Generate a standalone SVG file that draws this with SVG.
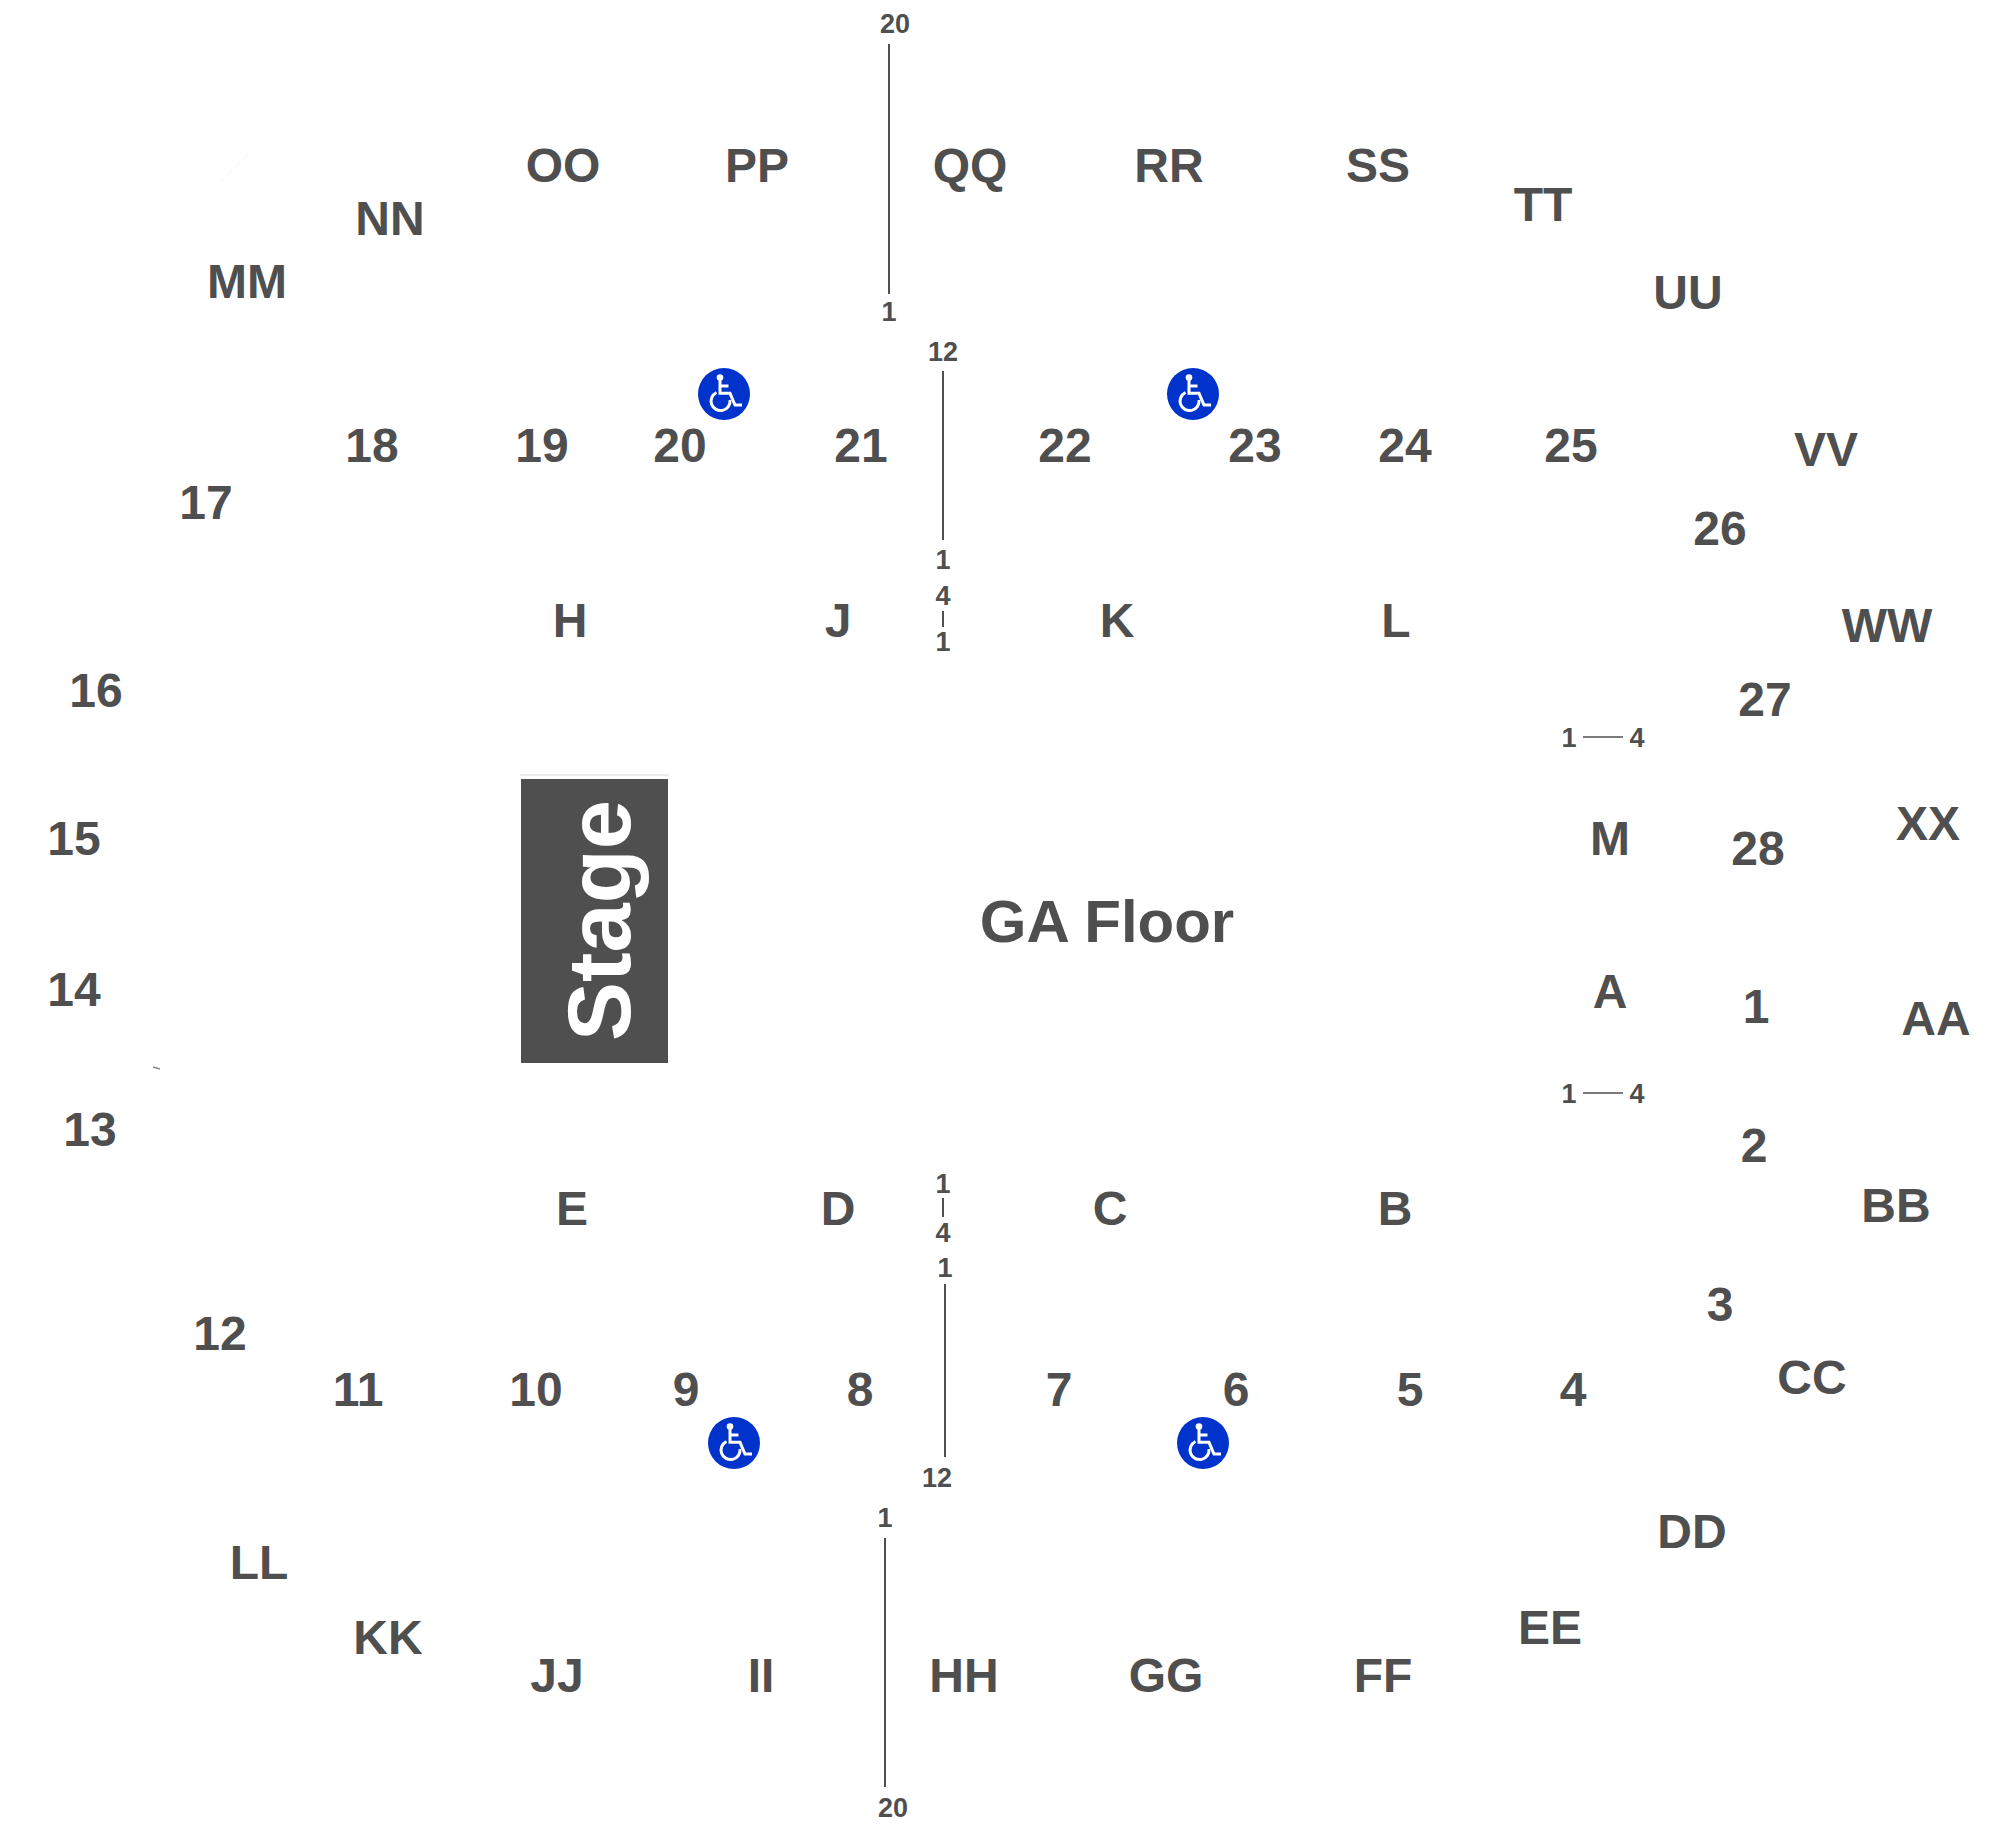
<svg xmlns="http://www.w3.org/2000/svg" width="2011" height="1828" viewBox="0 0 2011 1828">
<style>
text{font-family:"Liberation Sans",Arial,sans-serif;font-weight:700;fill:#4f4f4f;text-anchor:middle}
.s{font-size:48px}
.t{font-size:27px}
.l{stroke:#4f4f4f;stroke-width:2;fill:none}
.w{stroke:#fff;stroke-width:3;fill:none}
</style>
<defs>
<g id="wc">
<circle r="26" fill="#0033cc"/>
<circle cx="-4" cy="-16.5" r="3.3" fill="#fff"/>
<path class="w" d="M-4-14V-.7H6L11 11H18M-4-8H4.5"/>
<path class="w" d="M-7.5-1.5A9.5 9.5 0 1 0 6 6"/>
</g>
</defs>
<rect width="2011" height="1828" fill="#fff"/>
<g id="stage">
<path d="M520 775H669" stroke="#d8d8d8" stroke-width="1"/>
<rect x="521" y="779" width="147" height="284" fill="#4f4f4f"/>
<text transform="translate(630 1041) rotate(-90)" style="font-size:88.5px;fill:#fff;text-anchor:start">Stage</text>
</g>
<g id="floor"><text x="1107" y="942" style="font-size:60px">GA Floor</text></g>
<g id="sections-outer" class="s">
<text x="563" y="182">OO</text><text x="757" y="182">PP</text><text x="970" y="182">QQ</text><text x="1169" y="182">RR</text><text x="1378" y="182">SS</text>
<text x="1543" y="221">TT</text><text x="1688" y="309">UU</text><text x="390" y="235">NN</text><text x="247" y="298">MM</text>
<text x="1826" y="466">VV</text><text x="1887" y="642">WW</text><text x="1928" y="840">XX</text><text x="1936" y="1035">AA</text><text x="1896" y="1222">BB</text><text x="1812" y="1394">CC</text><text x="1692" y="1548">DD</text><text x="1550" y="1644">EE</text>
<text x="1383" y="1692">FF</text><text x="1166" y="1692">GG</text><text x="964" y="1692">HH</text><text x="761" y="1692">II</text><text x="557" y="1692">JJ</text><text x="388" y="1654">KK</text><text x="259" y="1579">LL</text>
</g>
<g id="sections-numbered" class="s">
<text x="372" y="462">18</text><text x="542" y="462">19</text><text x="680" y="462">20</text><text x="861" y="462">21</text><text x="1065" y="462">22</text><text x="1255" y="462">23</text><text x="1405" y="462">24</text><text x="1571" y="462">25</text>
<text x="1720" y="545">26</text><text x="1765" y="716">27</text><text x="1758" y="865">28</text><text x="1756" y="1023">1</text><text x="1754" y="1162">2</text><text x="1720" y="1321">3</text>
<text x="1573" y="1406">4</text><text x="1410" y="1406">5</text><text x="1236" y="1406">6</text><text x="1059" y="1406">7</text><text x="860" y="1406">8</text><text x="686" y="1406">9</text><text x="536" y="1406">10</text><text x="358" y="1406">11</text>
<text x="220" y="1350">12</text><text x="90" y="1146">13</text><text x="74" y="1006">14</text><text x="74" y="855">15</text><text x="96" y="707">16</text><text x="206" y="519">17</text>
</g>
<g id="sections-inner" class="s">
<text x="570" y="637">H</text><text x="838" y="637">J</text><text x="1117" y="637">K</text><text x="1396" y="637">L</text>
<text x="1610" y="855">M</text><text x="1610" y="1008">A</text>
<text x="1395" y="1225">B</text><text x="1110" y="1225">C</text><text x="838" y="1225">D</text><text x="572" y="1225">E</text>
</g>
<g id="row-labels" class="t">
<text x="895" y="33">20</text><text x="889" y="321">1</text>
<text x="943" y="361">12</text><text x="943" y="569">1</text><text x="943" y="605">4</text><text x="943" y="651">1</text>
<text x="943" y="1193">1</text><text x="943" y="1242">4</text><text x="945" y="1277">1</text><text x="937" y="1487">12</text>
<text x="885" y="1527">1</text><text x="893" y="1817">20</text>
<text x="1569" y="747">1</text><text x="1637" y="747">4</text>
<text x="1569" y="1103">1</text><text x="1637" y="1103">4</text>
</g>
<g id="connectors" class="l">
<path d="M889 44V294"/><path d="M943 371V540"/><path d="M943 611V627"/>
<path d="M943 1198V1217"/><path d="M945 1284V1457"/><path d="M885 1538V1787"/>
<path stroke-width="1.5" d="M1583 737H1623"/><path stroke-width="1.5" d="M1583 1093H1623"/>
</g>
<g id="mark"><path d="M153 1067L160 1069" stroke="#888" stroke-width="1.5" fill="none"/><path d="M220 182L250 152" stroke="#f6f6f6" stroke-width="1" fill="none"/></g>
<g id="accessible-1"><use href="#wc" x="724" y="394"/></g>
<g id="accessible-2"><use href="#wc" x="1193" y="394"/></g>
<g id="accessible-3"><use href="#wc" x="734" y="1443"/></g>
<g id="accessible-4"><use href="#wc" x="1203" y="1443"/></g>
</svg>
